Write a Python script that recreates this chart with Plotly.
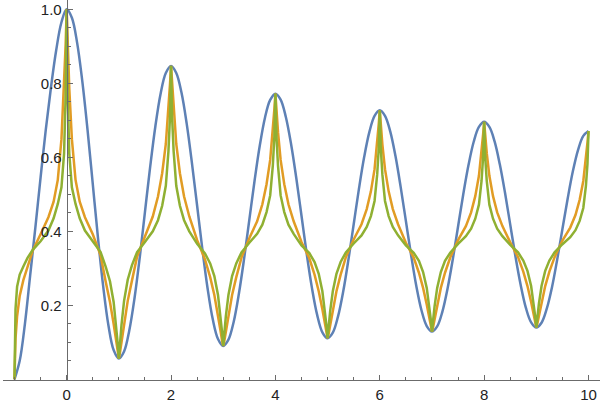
import plotly.graph_objects as go

# ---- data ----
X_BLUE = [-1.0, -0.9, -0.8, -0.7, -0.6, -0.5, -0.4, -0.3, -0.2, -0.1,
          0.0, 0.1, 0.2, 0.3, 0.4, 0.5, 0.6, 0.7, 0.8, 0.9,
          1.0, 1.1, 1.2, 1.3, 1.4, 1.5, 1.6, 1.7, 1.8, 1.9,
          2.0, 2.1, 2.2, 2.3, 2.4, 2.5, 2.6, 2.7, 2.8, 2.9,
          3.0, 3.1, 3.2, 3.3, 3.4, 3.5, 3.6, 3.7, 3.8, 3.9,
          4.0, 4.1, 4.2, 4.3, 4.4, 4.5, 4.6, 4.7, 4.8, 4.9,
          5.0, 5.1, 5.2, 5.3, 5.4, 5.5, 5.6, 5.7, 5.8, 5.9,
          6.0, 6.1, 6.2, 6.3, 6.4, 6.5, 6.6, 6.7, 6.8, 6.9,
          7.0, 7.1, 7.2, 7.3, 7.4, 7.5, 7.6, 7.7, 7.8, 7.9,
          8.0, 8.1, 8.2, 8.3, 8.4, 8.5, 8.6, 8.7, 8.8, 8.9,
          9.0, 9.1, 9.2, 9.3, 9.4, 9.5, 9.6, 9.7, 9.8, 9.9,
          10.0]
Y_BLUE = [0.0, 0.05, 0.15, 0.28, 0.41, 0.545, 0.675, 0.79, 0.89, 0.965,
          1.0, 0.977, 0.91, 0.805, 0.674, 0.528, 0.382, 0.251, 0.146, 0.079,
          0.056, 0.075, 0.132, 0.219, 0.329, 0.452, 0.574, 0.684, 0.772, 0.828,
          0.847, 0.828, 0.775, 0.691, 0.585, 0.469, 0.352, 0.246, 0.162, 0.109,
          0.09, 0.107, 0.155, 0.231, 0.326, 0.431, 0.536, 0.631, 0.707, 0.755,
          0.772, 0.756, 0.709, 0.636, 0.544, 0.442, 0.339, 0.247, 0.174, 0.127,
          0.111, 0.126, 0.17, 0.238, 0.324, 0.419, 0.514, 0.6, 0.668, 0.712,
          0.727, 0.712, 0.67, 0.604, 0.52, 0.428, 0.336, 0.252, 0.186, 0.144,
          0.129, 0.143, 0.183, 0.246, 0.325, 0.413, 0.5, 0.579, 0.642, 0.682,
          0.696, 0.682, 0.643, 0.581, 0.504, 0.418, 0.332, 0.255, 0.193, 0.154,
          0.14, 0.153, 0.191, 0.249, 0.324, 0.406, 0.488, 0.562, 0.62, 0.658,
          0.671]

X_SHARP = [-1.0, -0.98, -0.95, -0.9, -0.83, -0.75, -0.65, -0.5, -0.35, -0.25, -0.17, -0.1, -0.05, -0.02,
           0.0, 0.02, 0.05, 0.1, 0.17, 0.25, 0.35, 0.5, 0.65, 0.75, 0.83, 0.9, 0.95, 0.98,
           1.0, 1.02, 1.05, 1.1, 1.17, 1.25, 1.35, 1.5, 1.65, 1.75, 1.83, 1.9, 1.95, 1.98,
           2.0, 2.02, 2.05, 2.1, 2.17, 2.25, 2.35, 2.5, 2.65, 2.75, 2.83, 2.9, 2.95, 2.98,
           3.0, 3.02, 3.05, 3.1, 3.17, 3.25, 3.35, 3.5, 3.65, 3.75, 3.83, 3.9, 3.95, 3.98,
           4.0, 4.02, 4.05, 4.1, 4.17, 4.25, 4.35, 4.5, 4.65, 4.75, 4.83, 4.9, 4.95, 4.98,
           5.0, 5.02, 5.05, 5.1, 5.17, 5.25, 5.35, 5.5, 5.65, 5.75, 5.83, 5.9, 5.95, 5.98,
           6.0, 6.02, 6.05, 6.1, 6.17, 6.25, 6.35, 6.5, 6.65, 6.75, 6.83, 6.9, 6.95, 6.98,
           7.0, 7.02, 7.05, 7.1, 7.17, 7.25, 7.35, 7.5, 7.65, 7.75, 7.83, 7.9, 7.95, 7.98,
           8.0, 8.02, 8.05, 8.1, 8.17, 8.25, 8.35, 8.5, 8.65, 8.75, 8.83, 8.9, 8.95, 8.98,
           9.0, 9.02, 9.05, 9.1, 9.17, 9.25, 9.35, 9.5, 9.65, 9.75, 9.83, 9.9, 9.95, 9.98,
           10.0]
Y_ORANGE = [0.0, 0.11, 0.17, 0.225, 0.268, 0.305, 0.348, 0.392, 0.438, 0.48, 0.539, 0.649, 0.786, 0.903,
            1.0, 0.903, 0.786, 0.649, 0.539, 0.48, 0.438, 0.392, 0.335, 0.262, 0.209, 0.15, 0.1, 0.071,
            0.056, 0.071, 0.101, 0.152, 0.212, 0.266, 0.332, 0.386, 0.44, 0.494, 0.557, 0.636, 0.724, 0.798,
            0.847, 0.798, 0.724, 0.636, 0.557, 0.494, 0.44, 0.376, 0.324, 0.276, 0.228, 0.175, 0.13, 0.103,
            0.09, 0.103, 0.13, 0.175, 0.228, 0.276, 0.329, 0.381, 0.427, 0.473, 0.527, 0.593, 0.668, 0.73,
            0.772, 0.73, 0.668, 0.593, 0.527, 0.473, 0.427, 0.371, 0.327, 0.283, 0.238, 0.189, 0.148, 0.123,
            0.111, 0.123, 0.148, 0.189, 0.238, 0.283, 0.33, 0.378, 0.419, 0.46, 0.508, 0.568, 0.634, 0.69,
            0.727, 0.69, 0.634, 0.568, 0.508, 0.46, 0.419, 0.369, 0.329, 0.288, 0.247, 0.202, 0.163, 0.14,
            0.129, 0.14, 0.163, 0.202, 0.247, 0.288, 0.329, 0.376, 0.414, 0.451, 0.495, 0.55, 0.611, 0.662,
            0.696, 0.662, 0.611, 0.55, 0.495, 0.451, 0.414, 0.37, 0.33, 0.291, 0.252, 0.209, 0.172, 0.151,
            0.14, 0.151, 0.172, 0.209, 0.252, 0.291, 0.33, 0.375, 0.41, 0.444, 0.485, 0.536, 0.592, 0.64,
            0.671]
Y_GREEN = [0.0, 0.19, 0.25, 0.283, 0.305, 0.328, 0.35, 0.373, 0.402, 0.435, 0.474, 0.519, 0.61, 0.766,
           1.0, 0.766, 0.61, 0.519, 0.474, 0.435, 0.402, 0.373, 0.344, 0.303, 0.265, 0.209, 0.144, 0.094,
           0.056, 0.095, 0.146, 0.212, 0.269, 0.308, 0.344, 0.371, 0.4, 0.43, 0.469, 0.523, 0.616, 0.71,
           0.847, 0.71, 0.616, 0.523, 0.469, 0.43, 0.4, 0.366, 0.34, 0.313, 0.279, 0.228, 0.17, 0.125,
           0.09, 0.125, 0.17, 0.228, 0.279, 0.313, 0.343, 0.369, 0.393, 0.418, 0.452, 0.497, 0.577, 0.656,
           0.772, 0.656, 0.577, 0.497, 0.452, 0.418, 0.393, 0.362, 0.341, 0.317, 0.285, 0.238, 0.185, 0.143,
           0.111, 0.143, 0.185, 0.238, 0.285, 0.317, 0.343, 0.367, 0.389, 0.412, 0.441, 0.482, 0.553, 0.623,
           0.727, 0.623, 0.553, 0.482, 0.441, 0.412, 0.389, 0.362, 0.342, 0.32, 0.29, 0.247, 0.197, 0.159,
           0.129, 0.159, 0.197, 0.247, 0.29, 0.32, 0.342, 0.366, 0.387, 0.407, 0.434, 0.472, 0.536, 0.601,
           0.696, 0.601, 0.536, 0.472, 0.434, 0.407, 0.387, 0.363, 0.343, 0.321, 0.293, 0.252, 0.205, 0.168,
           0.14, 0.168, 0.205, 0.252, 0.293, 0.321, 0.343, 0.365, 0.384, 0.403, 0.428, 0.463, 0.523, 0.583,
           0.671]

X_TICKS = [0, 2, 4, 6, 8, 10]
X_TICK_LABELS = ["0", "2", "4", "6", "8", "10"]
Y_TICKS = [0.2, 0.4, 0.6, 0.8, 1.0]
Y_TICK_LABELS = ["0.2", "0.4", "0.6", "0.8", "1.0"]

BLUE = "#5E81B5"
ORANGE = "#E19C24"
GREEN = "#8FB032"
AXIS = "#6b6b6b"

X_RANGE = [-1.22, 10.22]
Y_RANGE = [-0.0019, 1.0251]

fig = go.Figure()
fig.add_trace(go.Scatter(x=X_BLUE, y=Y_BLUE, mode="lines",
                         line=dict(color=BLUE, width=2.5, shape="spline", smoothing=1.0)))
fig.add_trace(go.Scatter(x=X_SHARP, y=Y_ORANGE, mode="lines",
                         line=dict(color=ORANGE, width=2.5)))
fig.add_trace(go.Scatter(x=X_SHARP, y=Y_GREEN, mode="lines",
                         line=dict(color=GREEN, width=2.5)))

yaxis_pos = (0 - X_RANGE[0]) / (X_RANGE[1] - X_RANGE[0])

fig.update_layout(
    width=600, height=403,
    margin=dict(l=3, r=0, t=0, b=23, autoexpand=False),
    paper_bgcolor="white", plot_bgcolor="white",
    showlegend=False,
    font=dict(family="Liberation Sans, Arial, sans-serif", size=15, color="#222222"),
    xaxis=dict(range=X_RANGE, tickmode="array", tickvals=X_TICKS, ticktext=X_TICK_LABELS,
               showgrid=False, zeroline=False, showline=True, linecolor=AXIS, linewidth=1,
               ticks="inside", ticklen=5, tickcolor=AXIS, tickwidth=1,
               minor=dict(dtick=0.5, tick0=0, ticks="inside", ticklen=3, tickcolor=AXIS, tickwidth=1,
                          showgrid=False),
               ticklabelstandoff=1),
    yaxis=dict(range=Y_RANGE, tickmode="array", tickvals=Y_TICKS, ticktext=Y_TICK_LABELS,
               anchor="free", position=yaxis_pos,
               showgrid=False, zeroline=False, showline=True, linecolor=AXIS, linewidth=1,
               ticks="inside", ticklen=5, tickcolor=AXIS, tickwidth=1,
               minor=dict(dtick=0.05, tick0=0, ticks="inside", ticklen=3, tickcolor=AXIS, tickwidth=1,
                          showgrid=False),
               ticklabelstandoff=2),
)

fig.write_html("out.html", config={"displayModeBar": False},
               post_script="document.body.style.margin='0';document.body.style.overflow='hidden';")
